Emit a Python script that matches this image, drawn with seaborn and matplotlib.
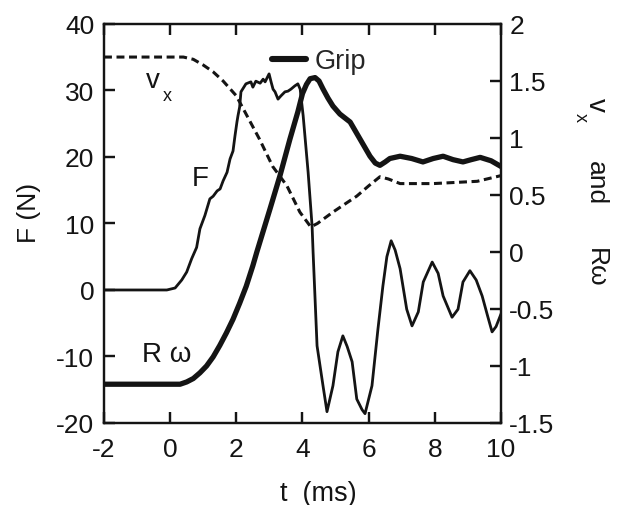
import matplotlib
matplotlib.use("Agg")
import matplotlib.pyplot as plt
from matplotlib.lines import Line2D
import seaborn as sns

# ---------------- data ----------------
# Force F (N), left axis
F_t = [-2.0, -0.1, 0.15, 0.35, 0.5, 0.65, 0.8, 0.9, 1.05, 1.2, 1.3, 1.42, 1.51, 1.6,
       1.72, 1.81, 1.9, 1.96, 2.02, 2.05, 2.1, 2.14, 2.29, 2.44, 2.5, 2.59, 2.72, 2.81,
       2.87, 2.99, 3.05, 3.11, 3.17, 3.26, 3.35, 3.47, 3.56, 3.65, 3.77, 3.86, 3.93,
       4.02, 4.17, 4.29, 4.32, 4.44, 4.62, 4.74, 4.92, 5.07, 5.22, 5.35, 5.5, 5.64,
       5.8, 5.89, 6.1, 6.28, 6.43, 6.55, 6.68, 6.8, 6.95, 7.15, 7.31, 7.5, 7.65, 7.92,
       8.1, 8.25, 8.52, 8.7, 8.85, 9.06, 9.25, 9.43, 9.6, 9.73, 9.85, 10.0]
F_vals = [0, 0, 0.3, 1.5, 2.7, 4.7, 6.4, 9.2, 11.2, 13.7, 14.1, 14.9, 15.2, 16.4,
          17.7, 19.7, 20.9, 23.2, 25.3, 26.2, 27.5, 29.8, 31.0, 31.3, 30.5, 31.4, 31.1, 31.7,
          31.3, 32.5, 31.3, 30.2, 29.8, 28.7, 29.2, 29.8, 29.9, 30.2, 30.7, 31.0, 30.2,
          26.2, 17.7, 9.6, 5.7, -8.4, -14.4, -18.3, -14.4, -9.3, -6.9, -8.5, -10.8, -16.4,
          -18.0, -18.6, -14.4, -5.9, 0.6, 5.0, 7.4, 6.0, 3.2, -2.9, -5.4, -3.3, 1.2, 4.2,
          2.5, -0.9, -4.1, -2.9, 1.2, 2.9, 1.5, -0.9, -4.0, -6.3, -5.5, -3.6]

# R*omega, right axis
Rw_t = [-2.0, 0.3, 0.5, 0.7, 0.9, 1.1, 1.3, 1.5, 1.7, 1.9, 2.1, 2.3, 2.5, 2.62, 3.02,
        3.32, 3.62, 3.86, 4.0, 4.12, 4.23, 4.38, 4.5, 4.62, 4.77, 4.92, 5.13, 5.44, 5.74,
        6.04, 6.2, 6.34, 6.5, 6.64, 6.95, 7.3, 7.64, 7.95, 8.25, 8.55, 8.85, 9.1, 9.37,
        9.7, 10.0]
Rw_vals = [-1.16, -1.16, -1.14, -1.11, -1.06, -1.0, -0.92, -0.82, -0.71, -0.59, -0.45,
           -0.30, -0.12, 0.0, 0.38, 0.67, 0.99, 1.23, 1.39, 1.47, 1.52, 1.53, 1.50, 1.43,
           1.35, 1.28, 1.21, 1.14, 0.99, 0.84, 0.78, 0.76, 0.79, 0.82, 0.84, 0.82, 0.79,
           0.82, 0.84, 0.81, 0.79, 0.81, 0.83, 0.80, 0.75]

# v_x, right axis
vx_t = [-2.0, 0.4, 0.7, 1.0, 1.3, 1.6, 2.0, 2.35, 2.7, 3.1, 3.53, 3.92, 4.25, 4.45,
        4.92, 5.64, 6.0, 6.34, 6.6, 6.95, 7.95, 9.28, 10.0]
vx_vals = [1.71, 1.71, 1.69, 1.64, 1.58, 1.50, 1.37, 1.18, 0.99, 0.75, 0.58, 0.35, 0.22,
           0.25, 0.35, 0.49, 0.58, 0.66, 0.64, 0.60, 0.60, 0.62, 0.67]

x_ticks = [-2, 0, 2, 4, 6, 8, 10]
x_tick_labels = ["-2", "0", "2", "4", "6", "8", "10"]
F_ticks = [-20, -10, 0, 10, 20, 30, 40]
F_tick_labels = ["-20", "-10", "0", "10", "20", "30", "40"]
r_ticks = [-1.5, -1, -0.5, 0, 0.5, 1, 1.5, 2]
r_tick_labels = ["-1.5", "-1", "-0.5", "0", "0.5", "1", "1.5", "2"]

# ---------------- style ----------------
sns.set_style("ticks")
ink = "#141414"
plt.rcParams.update({
    "font.family": ["Liberation Sans", "DejaVu Sans"],
    "axes.unicode_minus": False,
    "xtick.direction": "in",
    "ytick.direction": "in",
    "xtick.major.size": 8,
    "ytick.major.size": 8,
    "xtick.major.width": 1.6,
    "ytick.major.width": 1.6,
    "xtick.color": ink,
    "ytick.color": ink,
    "axes.edgecolor": ink,
    "axes.linewidth": 1.6,
})

fig = plt.figure(figsize=(6.23, 5.06), dpi=100)
ax = fig.add_axes([0.1669, 0.1621, 0.6373, 0.7885])
ax2 = ax.twinx()

sns.lineplot(x=F_t, y=F_vals, ax=ax, color=ink, lw=2.0, estimator=None)
sns.lineplot(x=Rw_t, y=Rw_vals, ax=ax2, color=ink, lw=3.8, estimator=None)
sns.lineplot(x=vx_t, y=vx_vals, ax=ax2, color=ink, lw=2.2, estimator=None,
             dashes=False, linestyle=(0, (2.6, 1.5)))

ax.set_xlim(-2, 10)
ax.set_ylim(-20, 40)
ax2.set_ylim(-1.5, 2)

ax.set_xticks(x_ticks, labels=x_tick_labels)
ax.set_yticks(F_ticks, labels=F_tick_labels)
ax2.set_yticks(r_ticks, labels=r_tick_labels)

ax.tick_params(axis="x", which="major", top=True, bottom=True, labeltop=False,
               labelbottom=True, pad=10, labelsize=19, length=8, width=1.6,
               direction="in")
ax.tick_params(axis="y", which="major", left=True, right=False, labelleft=True,
               labelright=False, pad=7, labelsize=19, length=8, width=1.6,
               direction="in")
ax2.tick_params(axis="y", which="major", right=True, left=False, labelright=True,
                labelleft=False, pad=6, labelsize=19, length=8, width=1.6,
                direction="in")

# inward tick marks along the frame, anchored to the axes' own transforms
seg_kw = dict(color=ink, lw=1.6, clip_on=False, solid_capstyle="butt", zorder=5)
xt = ax.get_xaxis_transform()
yt = ax.get_yaxis_transform()
yt2 = ax2.get_yaxis_transform()
for xv in x_ticks:
    ax.plot([xv, xv], [0, 0.028], transform=xt, **seg_kw)
    ax.plot([xv, xv], [0.972, 1], transform=xt, **seg_kw)
for fv in F_ticks:
    ax.plot([0, 0.028], [fv, fv], transform=yt, **seg_kw)
for rv in r_ticks:
    ax2.plot([0.972, 1], [rv, rv], transform=yt2, **seg_kw)
ax.set_xlim(-2, 10)
ax.set_ylim(-20, 40)
ax2.set_ylim(-1.5, 2)

# axis labels
ax.set_xlabel("t  (ms)", fontsize=19.5, color=ink)
ax.xaxis.set_label_coords(0.539, -0.143)
ax.set_ylabel("F (N)", fontsize=19, color=ink)
ax.yaxis.label.set(ha="center", va="center", rotation_mode="anchor")
ax.yaxis.set_label_coords(-0.189, 0.529)

ax2.set_ylabel("and", fontsize=19, color=ink, rotation=-90)
ax2.yaxis.label.set(ha="center", va="center", rotation_mode="anchor")
ax2.yaxis.set_label_coords(1.239, 0.604)
ax2.text(1.239, 0.799, "v", transform=ax2.transAxes, rotation=-90, fontsize=20,
         ha="center", va="center", color=ink)
ax2.text(1.200, 0.769, "x", transform=ax2.transAxes, rotation=-90, fontsize=13,
         ha="center", va="center", color=ink)
ax2.text(1.239, 0.391, "R\u03c9", transform=ax2.transAxes, rotation=-90, fontsize=19,
         ha="center", va="center", color=ink)

# in-plot labels
ax.text(-0.52, 31.6, "v", fontsize=20, ha="center", va="center", color=ink)
ax.text(-0.1, 29.2, "x", fontsize=13, ha="center", va="center", color=ink)
ax.text(0.9, 16.8, "F", fontsize=20, ha="center", va="center", color=ink)
ax.text(-0.1, -9.6, "R \u03c9", fontsize=20, ha="center", va="center", color=ink)

# legend "Grip"
ax2.legend(handles=[Line2D([], [], color=ink, lw=4.4)], labels=["Grip"],
           loc="center left", bbox_to_anchor=(0.423, 0.907), frameon=False,
           handlelength=1.25, handletextpad=0.32, borderpad=0, borderaxespad=0,
           fontsize=19.5)

fig.savefig("out.png", dpi=100)
